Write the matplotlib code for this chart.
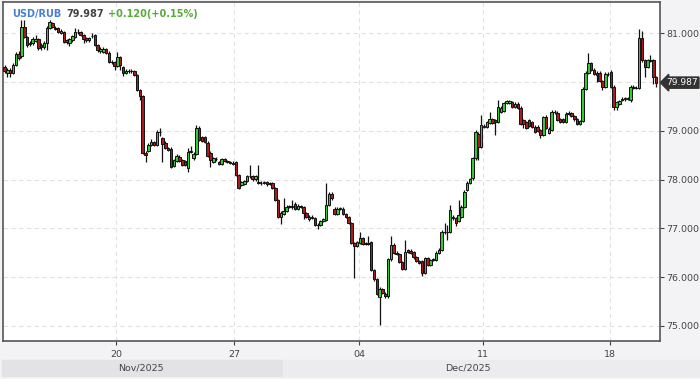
import numpy as np
import matplotlib.pyplot as plt
from matplotlib.patches import Rectangle

# USD/RUB candles (open, high, low, close), one entry per bar, oldest first
opens = [80.31, 80.19, 80.25, 80.19, 80.35, 80.58, 80.54, 81.13, 80.92, 80.78,
         80.80, 80.84, 80.88, 80.76, 80.72, 80.80, 81.11, 81.21, 81.11, 81.11,
         81.01, 81.03, 80.86, 80.80, 80.86, 80.92, 81.03, 81.02, 80.97, 80.90,
         80.86, 80.94, 80.97, 80.76, 80.64, 80.62, 80.68, 80.60, 80.41, 80.41,
         80.33, 80.51, 80.31, 80.19, 80.23, 80.22, 80.23, 80.15, 79.84, 79.72,
         78.55, 78.59, 78.71, 78.77, 78.71, 78.98, 78.86, 78.75, 78.65, 78.63,
         78.28, 78.38, 78.47, 78.40, 78.38, 78.24, 78.57, 78.44, 78.53, 79.06,
         78.88, 78.88, 78.75, 78.55, 78.36, 78.42, 78.36, 78.32, 78.42, 78.38,
         78.36, 78.34, 78.36, 78.10, 77.89, 77.91, 77.97, 78.08, 78.08, 78.01,
         77.95, 77.93, 77.93, 77.94, 77.91, 77.93, 77.83, 77.58, 77.24, 77.30,
         77.36, 77.44, 77.45, 77.50, 77.40, 77.46, 77.44, 77.32, 77.19, 77.24,
         77.22, 77.07, 77.07, 77.15, 77.17, 77.48, 77.71, 77.40, 77.30, 77.40,
         77.40, 77.30, 77.24, 77.11, 76.70, 76.64, 76.70, 76.80, 76.68, 76.69,
         76.72, 76.15, 75.96, 75.59, 75.76, 75.66, 75.61, 76.37, 76.66, 76.50,
         76.48, 76.31, 76.17, 76.56, 76.54, 76.52, 76.41, 76.33, 76.33, 76.09,
         76.39, 76.25, 76.35, 76.35, 76.50, 76.56, 76.93, 76.92, 76.93, 77.24,
         77.21, 77.15, 77.24, 77.44, 77.79, 77.93, 78.03, 78.44, 78.94, 78.67,
         79.08, 79.08, 79.16, 79.24, 79.22, 79.18, 79.39, 79.41, 79.57, 79.57,
         79.59, 79.49, 79.55, 79.47, 79.22, 79.18, 79.22, 79.18, 79.08, 79.08,
         79.02, 78.92, 79.28, 78.96, 79.02, 79.39, 79.37, 79.24, 79.24, 79.18,
         79.35, 79.37, 79.31, 79.24, 79.14, 79.20, 79.86, 80.19, 80.39, 80.25,
         80.19, 80.19, 80.02, 79.90, 80.17, 80.21, 79.90, 79.49, 79.55, 79.65,
         79.65, 79.67, 79.63, 79.90, 79.88, 79.88, 80.90, 80.45, 80.31, 80.43,
         80.45, 80.10]

closes = [80.23, 80.25, 80.19, 80.35, 80.58, 80.49, 81.13, 80.92, 80.76, 80.80,
          80.88, 80.88, 80.70, 80.72, 80.80, 81.11, 81.23, 81.13, 81.09, 81.03,
          81.05, 80.82, 80.82, 80.88, 80.94, 81.03, 81.02, 80.97, 80.88, 80.86,
          80.90, 80.95, 80.76, 80.66, 80.68, 80.68, 80.60, 80.41, 80.40, 80.33,
          80.51, 80.35, 80.19, 80.23, 80.22, 80.23, 80.15, 79.84, 79.72, 78.55,
          78.51, 78.71, 78.77, 78.71, 78.98, 78.97, 78.73, 78.65, 78.61, 78.26,
          78.40, 78.49, 78.38, 78.30, 78.30, 78.57, 78.59, 78.53, 79.06, 78.81,
          78.79, 78.77, 78.49, 78.40, 78.44, 78.43, 78.32, 78.42, 78.38, 78.36,
          78.34, 78.32, 78.10, 77.83, 77.95, 77.97, 78.08, 78.07, 78.01, 78.08,
          77.93, 77.93, 77.94, 77.91, 77.92, 77.83, 77.58, 77.24, 77.32, 77.36,
          77.44, 77.45, 77.44, 77.40, 77.46, 77.44, 77.32, 77.24, 77.24, 77.22,
          77.07, 77.06, 77.15, 77.19, 77.48, 77.71, 77.62, 77.30, 77.40, 77.41,
          77.30, 77.24, 77.11, 76.70, 76.64, 76.72, 76.80, 76.68, 76.69, 76.68,
          76.15, 75.96, 75.66, 75.76, 75.68, 75.61, 76.37, 76.66, 76.50, 76.48,
          76.31, 76.17, 76.52, 76.52, 76.50, 76.41, 76.33, 76.29, 76.09, 76.39,
          76.25, 76.35, 76.37, 76.50, 76.56, 76.93, 76.92, 76.93, 77.38, 77.21,
          77.11, 77.28, 77.44, 77.75, 77.93, 78.01, 78.44, 78.98, 78.67, 79.12,
          79.10, 79.18, 79.24, 79.16, 79.18, 79.49, 79.47, 79.57, 79.61, 79.61,
          79.49, 79.55, 79.47, 79.14, 79.14, 79.06, 79.10, 79.08, 78.98, 79.00,
          78.92, 79.28, 79.06, 79.04, 79.39, 79.38, 79.22, 79.18, 79.18, 79.35,
          79.37, 79.31, 79.24, 79.14, 79.20, 79.86, 80.19, 80.39, 80.25, 80.17,
          80.15, 80.02, 79.90, 80.17, 80.16, 79.90, 79.49, 79.59, 79.61, 79.64,
          79.67, 79.66, 79.90, 79.88, 79.88, 80.90, 80.45, 80.31, 80.45, 80.45,
          80.10, 79.987]

highs = [80.35, 80.29, 80.28, 80.38, 80.62, 80.64, 81.27, 81.27, 80.95, 80.85,
         80.92, 80.97, 80.90, 80.80, 80.84, 81.14, 81.27, 81.24, 81.14, 81.13,
         81.09, 81.05, 80.88, 80.90, 80.97, 81.11, 81.09, 81.04, 80.99, 80.93,
         80.93, 81.00, 80.99, 80.78, 80.71, 80.72, 80.70, 80.63, 80.45, 80.43,
         80.62, 80.53, 80.33, 80.26, 80.27, 80.26, 80.25, 80.17, 79.86, 79.74,
         78.58, 78.74, 78.83, 78.80, 79.02, 79.06, 78.88, 78.78, 78.67, 78.66,
         78.43, 78.52, 78.50, 78.43, 78.41, 78.65, 78.69, 78.56, 79.12, 79.09,
         78.90, 78.90, 78.78, 78.58, 78.47, 78.46, 78.39, 78.45, 78.45, 78.41,
         78.39, 78.37, 78.39, 78.12, 77.98, 78.00, 78.10, 78.30, 78.10, 78.10,
         78.30, 77.96, 77.97, 77.96, 77.95, 77.95, 77.85, 77.60, 77.35, 77.62,
         77.47, 77.48, 77.58, 77.53, 77.49, 77.48, 77.46, 77.34, 77.27, 77.27,
         77.24, 77.10, 77.18, 77.22, 77.93, 77.74, 77.74, 77.43, 77.43, 77.44,
         77.43, 77.32, 77.26, 77.13, 76.72, 76.75, 76.93, 76.83, 76.72, 76.85,
         76.74, 76.17, 75.98, 75.79, 75.78, 75.69, 76.40, 76.85, 76.69, 76.53,
         76.50, 76.33, 76.76, 76.58, 76.57, 76.54, 76.44, 76.36, 76.36, 76.42,
         76.42, 76.38, 76.40, 76.53, 76.59, 76.96, 77.11, 77.07, 77.48, 77.27,
         77.24, 77.58, 77.47, 77.78, 77.96, 78.04, 78.47, 79.01, 78.97, 79.33,
         79.13, 79.21, 79.39, 79.27, 79.25, 79.63, 79.50, 79.60, 79.64, 79.64,
         79.62, 79.58, 79.58, 79.50, 79.25, 79.21, 79.25, 79.21, 79.11, 79.11,
         79.04, 79.31, 79.33, 79.07, 79.42, 79.43, 79.40, 79.27, 79.27, 79.38,
         79.40, 79.39, 79.33, 79.26, 79.23, 79.89, 80.22, 80.60, 80.42, 80.28,
         80.22, 80.22, 80.05, 80.20, 80.20, 80.24, 79.93, 79.62, 79.64, 79.70,
         79.70, 79.70, 79.93, 79.93, 79.91, 81.09, 81.05, 80.48, 80.48, 80.55,
         80.48, 80.13]

lows = [80.19, 80.10, 80.10, 80.16, 80.33, 80.46, 80.50, 80.90, 80.72, 80.74,
        80.76, 80.82, 80.66, 80.66, 80.68, 80.66, 81.08, 81.10, 81.06, 81.00,
        80.98, 80.79, 80.78, 80.74, 80.83, 80.90, 80.99, 80.94, 80.80, 80.83,
        80.83, 80.91, 80.73, 80.62, 80.60, 80.59, 80.57, 80.38, 80.37, 80.25,
        80.30, 80.25, 80.12, 80.16, 80.19, 80.19, 80.12, 79.81, 79.63, 78.52,
        78.36, 78.56, 78.68, 78.68, 78.68, 78.90, 78.36, 78.62, 78.58, 78.24,
        78.25, 78.35, 78.35, 78.27, 78.27, 78.16, 78.54, 78.41, 78.50, 78.78,
        78.76, 78.74, 78.46, 78.26, 78.33, 78.39, 78.29, 78.29, 78.35, 78.33,
        78.31, 78.29, 78.07, 77.80, 77.86, 77.88, 77.94, 78.04, 77.98, 77.98,
        77.90, 77.89, 77.90, 77.87, 77.88, 77.80, 77.55, 77.21, 77.09, 77.27,
        77.33, 77.41, 77.40, 77.37, 77.37, 77.41, 77.19, 77.21, 77.16, 77.19,
        77.04, 76.99, 77.04, 77.12, 77.14, 77.45, 77.59, 77.27, 77.27, 77.37,
        77.27, 77.21, 77.08, 76.67, 75.98, 76.61, 76.67, 76.65, 76.65, 76.65,
        76.12, 75.93, 75.63, 75.02, 75.65, 75.58, 75.58, 76.34, 76.47, 76.45,
        76.28, 76.14, 76.14, 76.49, 76.47, 76.38, 76.30, 76.26, 76.03, 76.06,
        76.22, 76.22, 76.32, 76.32, 76.47, 76.53, 76.89, 76.76, 76.90, 77.18,
        77.05, 77.12, 77.21, 77.41, 77.76, 77.90, 78.00, 78.41, 78.40, 78.64,
        79.05, 79.05, 79.13, 79.13, 78.92, 79.15, 79.36, 79.38, 79.54, 79.54,
        79.46, 79.46, 79.44, 79.11, 79.06, 79.03, 79.07, 79.05, 78.95, 78.97,
        78.86, 78.89, 79.03, 78.93, 78.99, 79.35, 79.19, 79.15, 79.15, 79.15,
        79.32, 79.28, 79.21, 79.11, 79.11, 79.17, 79.83, 80.16, 80.22, 80.14,
        80.00, 79.99, 79.84, 79.87, 80.13, 79.87, 79.43, 79.43, 79.52, 79.61,
        79.62, 79.63, 79.60, 79.85, 79.85, 79.85, 80.42, 80.10, 80.28, 80.40,
        79.95, 79.90]

# date ticks (bar index where each day starts) and month strips
tick_pos = [39.5, 81.4, 125.7, 169.7, 214.7]
tick_labels = ['20', '27', '04', '11', '18']
months = ['Nov/2025', 'Dec/2025']
y_ticks = [75, 76, 77, 78, 79, 80, 81]

last_price = 79.987
change = '+0.120(+0.15%)'

o = np.array(opens)
c = np.array(closes)
h = np.array(highs)
l = np.array(lows)
idx = np.arange(len(o))
up = c >= o

W, H = 700, 379
fig = plt.figure(figsize=(W / 100, H / 100), dpi=100)
fig.patch.set_facecolor('#f3f3f5')
ax = fig.add_axes([3 / W, 1 - 340.5 / H, 657 / W, 338.5 / H])
ax.set_facecolor('white')

# wicks then bodies
ax.vlines(idx, l, h, color='#111111', linewidth=0.9, zorder=2)
body_lo = np.minimum(o, c)
body_h = np.abs(c - o)
ax.bar(idx[up], body_h[up], bottom=body_lo[up], width=0.9,
       color='#36c936', edgecolor='#111111', linewidth=0.7, zorder=3)
ax.bar(idx[~up], body_h[~up], bottom=body_lo[~up], width=0.9,
       color='#a81c1c', edgecolor='#111111', linewidth=0.7, zorder=3)

ax.set_xlim(-0.55, 232.4)
ax.set_ylim(74.70, 81.64)

ax.set_xticks(tick_pos)
ax.set_xticklabels(tick_labels)
ax.set_yticks(y_ticks)
# the 80.000 label sits under the last-price marker
ax.set_yticklabels(['' if v == 80 else '%.3f' % v for v in y_ticks])
ax.yaxis.tick_right()
ax.tick_params(axis='both', colors='#444444', labelsize=6.8, length=3, width=0.8)
ax.tick_params(axis='x', pad=4)
ax.tick_params(axis='y', pad=1.5)
ax.grid(True, color='#e2e2e2', linestyle=(0, (4, 3)), linewidth=0.8, zorder=0)
for s in ax.spines.values():
    s.set_color('#555555')
    s.set_linewidth(1.2)

# header
fig.text(12.5 / W, 1 - 17 / H, 'USD/RUB', color='#4a7fd6', fontsize=7.0,
         fontweight='bold', va='baseline')
fig.text(66 / W, 1 - 17 / H, '%.3f' % last_price, color='#444444', fontsize=7.0,
         fontweight='bold', va='baseline')
fig.text(108 / W, 1 - 17 / H, change, color='#5aab3a', fontsize=7.0,
         fontweight='bold', va='baseline')

# last price marker
ax.annotate('%.3f' % last_price, xy=(1.0, last_price),
            xycoords=('axes fraction', 'data'), xytext=(4.5, 0),
            textcoords='offset points', va='center', ha='left',
            color='white', fontsize=6.6, annotation_clip=False, zorder=5,
            bbox=dict(boxstyle='larrow,pad=0.12', fc='#333333', ec='#333333'))

# month strip under the axis
nov_end = 282 / W
fig.add_artist(Rectangle((2 / W, 3 / H), nov_end - 2 / W, 16 / H,
                         transform=fig.transFigure, color='#e3e3e5', zorder=0))
fig.add_artist(Rectangle((nov_end + 1 / W, 3 / H), 699 / W - nov_end, 16 / H,
                         transform=fig.transFigure, color='#ececee', zorder=0))
fig.text(141 / W, 1 - 368 / H, months[0], color='#444444', fontsize=6.8,
         ha='center', va='center')
fig.text(468 / W, 1 - 368 / H, months[1], color='#444444', fontsize=6.8,
         ha='center', va='center')

fig.savefig('out.png', dpi=100, facecolor=fig.get_facecolor())
